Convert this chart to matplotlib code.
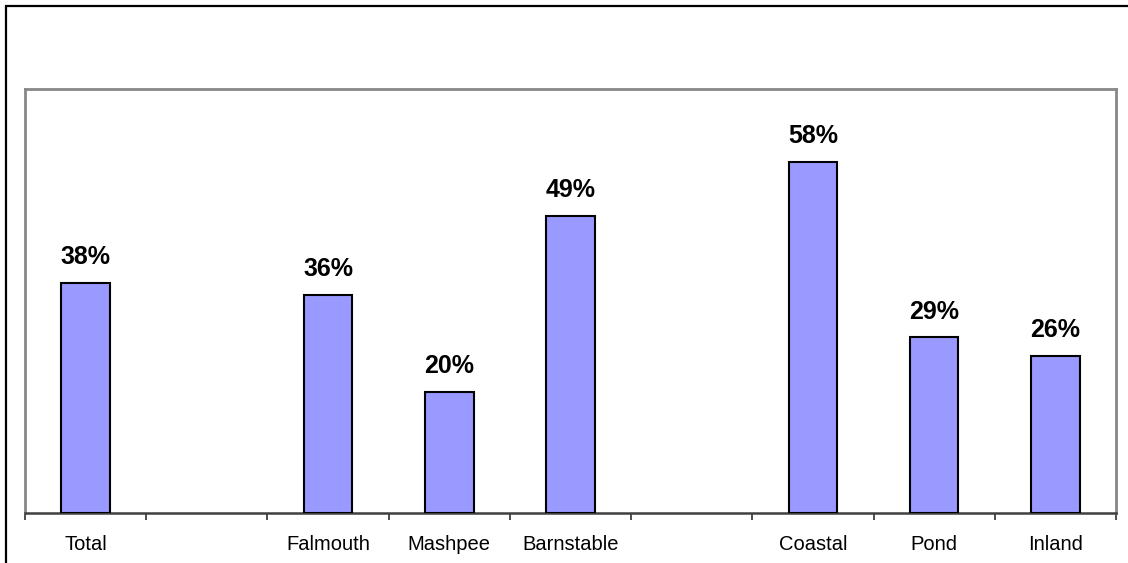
import matplotlib
matplotlib.use('Agg')
import matplotlib.pyplot as plt
from matplotlib.lines import Line2D
from matplotlib.ticker import FixedLocator

plt.rcParams['font.family'] = ['Liberation Sans', 'DejaVu Sans']

# Share of respondents per area (blank slots separate the groups)
categories = ['Total', '', 'Falmouth', 'Mashpee', 'Barnstable', '', 'Coastal', 'Pond', 'Inland']
values = [0.38, None, 0.36, 0.20, 0.49, None, 0.58, 0.29, 0.26]
labels = ['38%', '', '36%', '20%', '49%', '', '58%', '29%', '26%']

fig = plt.figure(figsize=(11.28, 5.63), dpi=100)
ax = fig.add_axes([25 / 1128, 50 / 563, 1091 / 1128, 424 / 563])

# Outer chart frame (top and left edges only show)
fig.add_artist(Line2D([5 / 1128, 1.2], [1 - 5.5 / 563] * 2, color='black', lw=1.6,
                      solid_capstyle='butt'))
fig.add_artist(Line2D([5.5 / 1128] * 2, [-0.2, 1 - 5 / 563], color='black', lw=1.6,
                      solid_capstyle='butt'))

xs = [i for i, v in enumerate(values) if v is not None]
hs = [v for v in values if v is not None]
ax.bar(xs, hs, width=0.40, color='#9999FF', edgecolor='black', linewidth=1.5, zorder=3)

for i, v in enumerate(values):
    if v is None:
        continue
    ax.annotate(labels[i], (i, v), xytext=(0, 13.5), textcoords='offset points',
                ha='center', va='baseline', fontsize=18, fontweight='bold')

ax.set_xlim(-0.5, len(categories) - 0.5)
ax.set_ylim(0, 0.70)
ax.set_yticks([])

ax.set_xticks(range(len(categories)))
ax.set_xticklabels(categories, fontsize=14.5)
ax.xaxis.set_minor_locator(FixedLocator([i - 0.5 for i in range(len(categories) + 1)]))
ax.tick_params(axis='x', which='major', length=0, pad=16)
ax.tick_params(axis='x', which='minor', length=5, width=1.2, color='#303030', direction='out')

for side in ['left', 'top', 'right']:
    ax.spines[side].set_color('#888888')
    ax.spines[side].set_linewidth(2)
ax.spines['bottom'].set_color('#404040')
ax.spines['bottom'].set_linewidth(1.8)

plt.savefig('out.png', dpi=100)
